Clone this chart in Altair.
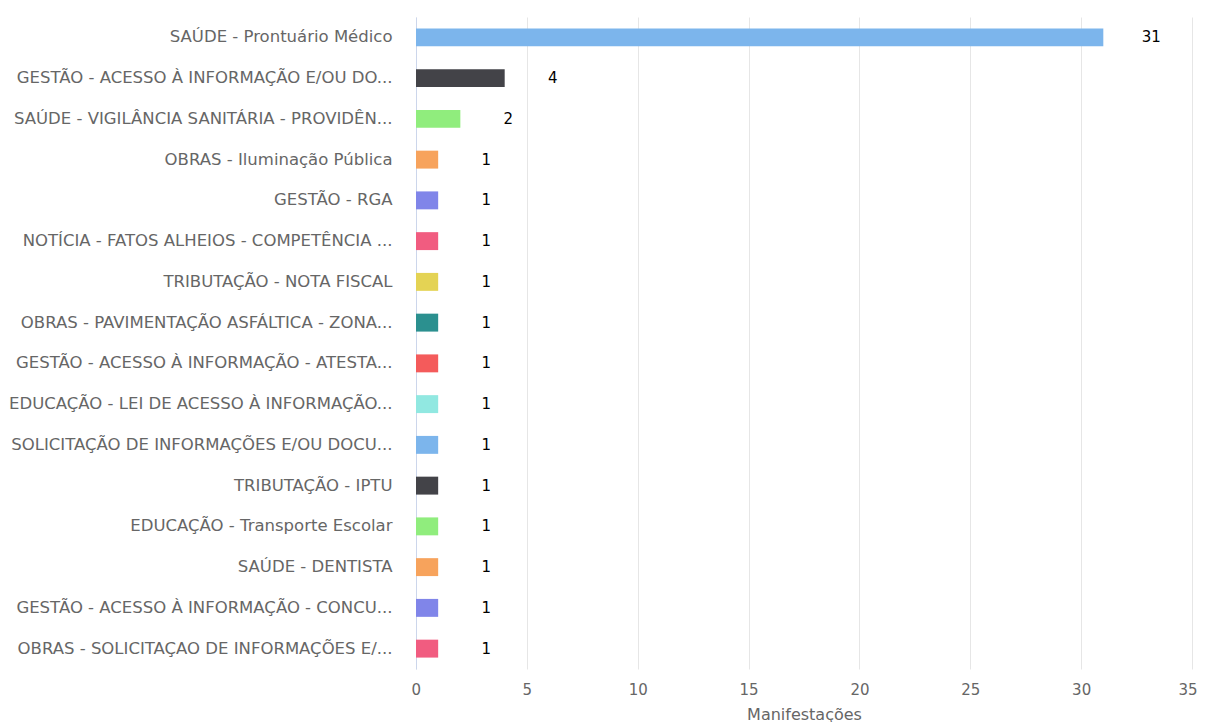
import altair as alt
import pandas as pd

categories = [
    "SAÚDE - Prontuário Médico",
    "GESTÃO - ACESSO À INFORMAÇÃO E/OU DO...",
    "SAÚDE - VIGILÂNCIA SANITÁRIA - PROVIDÊN...",
    "OBRAS - Iluminação Pública",
    "GESTÃO - RGA",
    "NOTÍCIA - FATOS ALHEIOS - COMPETÊNCIA ...",
    "TRIBUTAÇÃO - NOTA FISCAL",
    "OBRAS - PAVIMENTAÇÃO ASFÁLTICA - ZONA...",
    "GESTÃO - ACESSO À INFORMAÇÃO - ATESTA...",
    "EDUCAÇÃO - LEI DE ACESSO À INFORMAÇÃO...",
    "SOLICITAÇÃO DE INFORMAÇÕES E/OU DOCU...",
    "TRIBUTAÇÃO - IPTU",
    "EDUCAÇÃO - Transporte Escolar",
    "SAÚDE - DENTISTA",
    "GESTÃO - ACESSO À INFORMAÇÃO - CONCU...",
    "OBRAS - SOLICITAÇAO DE INFORMAÇÕES E/...",
]
values = [31, 4, 2, 1, 1, 1, 1, 1, 1, 1, 1, 1, 1, 1, 1, 1]
colors = [
    "#7cb5ec", "#434348", "#90ed7d", "#f7a35c", "#8085e9", "#f15c80",
    "#e4d354", "#2b908f", "#f45b5b", "#91e8e1", "#7cb5ec", "#434348",
    "#90ed7d", "#f7a35c", "#8085e9", "#f15c80",
]
x_ticks = [0, 5, 10, 15, 20, 25, 30, 35]

df = pd.DataFrame({"cat": categories, "val": values})

FONT = "DejaVu Sans"

y_enc = alt.Y(
    "cat:N",
    sort=None,
    title=None,
    scale=alt.Scale(paddingInner=0.56, paddingOuter=0.28),
    axis=alt.Axis(
        labelFont=FONT, labelFontSize=16.5, labelColor="#666666",
        labelLimit=500, labelPadding=24, ticks=False,
        domainColor="#ccd6eb", domainWidth=1, grid=False,
    ),
)
x_enc = alt.X(
    "val:Q",
    title="Manifestações",
    scale=alt.Scale(domain=[0, 35], nice=False),
    axis=alt.Axis(
        values=x_ticks,
        labelFont=FONT, labelFontSize=15, labelColor="#666666",
        labelPadding=13, labelFlush=True, labelFlushOffset=5,
        ticks=False, domain=False,
        grid=True, gridColor="#e6e6e6", gridWidth=1,
        titleFont=FONT, titleFontSize=16, titleColor="#666666",
        titleFontWeight="normal", titlePadding=9,
    ),
)

bars = alt.Chart(df).mark_bar().encode(
    y=y_enc,
    x=x_enc,
    color=alt.Color("cat:N", sort=None, legend=None,
                    scale=alt.Scale(domain=categories, range=colors)),
)

text = alt.Chart(df).mark_text(
    align="center", baseline="middle", dx=48,
    font=FONT, fontSize=15, color="#000000",
).encode(
    y=alt.Y("cat:N", sort=None),
    x=alt.X("val:Q"),
    text=alt.Text("val:Q"),
)

chart = (bars + text).properties(
    width=776,
    height=652,
    autosize=alt.AutoSizeParams(type="none"),
    padding={"left": 408, "top": 9, "right": 6, "bottom": 53},
).configure(background="white").configure_view(stroke=None)

chart.save("out.html", embed_options={"renderer": "svg", "actions": False})
